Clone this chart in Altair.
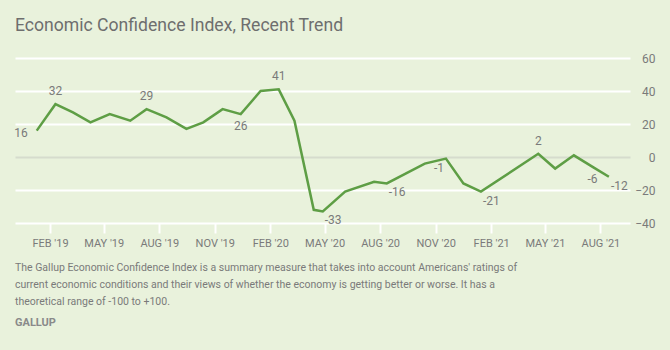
import altair as alt
import pandas as pd

# ---- data ----
DATES = ["2019-01-10", "2019-02-10", "2019-03-11", "2019-04-09", "2019-05-11",
         "2019-06-14", "2019-07-11", "2019-08-13", "2019-09-15", "2019-10-13",
         "2019-11-14", "2019-12-14", "2020-01-16", "2020-02-15", "2020-03-12",
         "2020-04-13", "2020-04-28", "2020-06-04", "2020-07-22", "2020-08-12",
         "2020-10-14", "2020-11-18", "2020-12-17", "2021-01-15", "2021-04-20",
         "2021-05-18", "2021-06-18", "2021-07-19", "2021-08-15"]
VALUES = [16, 32, 27, 21, 26, 22, 29, 24, 17, 21, 29, 26, 40, 41, 22,
          -32, -33, -21, -15, -16, -4, -1, -16, -21, 2, -7, 1, -6, -12]

# labelled points and where their label sits relative to the point
LABEL_DATES = ["2019-01-10", "2019-02-10", "2019-07-11", "2019-12-14", "2020-02-15",
               "2020-04-28", "2020-08-12", "2020-11-18", "2021-01-15", "2021-04-20",
               "2021-07-19", "2021-08-15"]
LABEL_PLACES = ["left", "above", "above", "below", "above",
                "belowright", "belowright", "belowleft", "belowright", "above",
                "below", "belowright"]

TICK_MONTHS = ["2019-02-01", "2019-05-01", "2019-08-01", "2019-11-01",
               "2020-02-01", "2020-05-01", "2020-08-01", "2020-11-01",
               "2021-02-01", "2021-05-01", "2021-08-01"]
Y_TICKS = [-40, -20, 0, 20, 40, 60]

TITLE = "Economic Confidence Index, Recent Trend"
NOTE_LINES = [
    "The Gallup Economic Confidence Index is a summary measure that takes into account Americans' ratings of",
    "current economic conditions and their views of whether the economy is getting better or worse. It has a",
    "theoretical range of -100 to +100.",
]
SOURCE = "GALLUP"

# ---- build ----
df = pd.DataFrame({"date": DATES, "value": VALUES})
lookup = dict(zip(DATES, VALUES))
lab = pd.DataFrame({
    "date": LABEL_DATES,
    "value": [lookup[d] for d in LABEL_DATES],
    "place": LABEL_PLACES,
})
lab["label"] = lab["value"].astype(str)

BG = "#e9f2dc"
TXT = "#7a7a7a"
GREEN = "#5e9e45"
FONT = "Roboto"


def dt(s):
    y, m, d = (int(p) for p in s.split("-"))
    return alt.DateTime(year=y, month=m, date=d, utc=True)


xscale = alt.Scale(type="utc", domain=[dt("2018-12-05"), dt("2021-09-19")])
yscale = alt.Scale(domain=[-40, 60])

x_enc = alt.X(
    "date:T", scale=xscale, title=None,
    axis=alt.Axis(
        values=[dt(t) for t in TICK_MONTHS],
        labelExpr="upper(utcFormat(datum.value, \"%b '%y\"))",
        grid=False, domain=False, ticks=True, tickColor="white", tickWidth=2,
        tickSize=10, labelColor=TXT, labelFontSize=11, labelFont=FONT,
        labelPadding=4, labelOverlap=False,
    ),
)
y_enc = alt.Y(
    "value:Q", scale=yscale, title=None,
    axis=alt.Axis(
        orient="right", values=Y_TICKS, domain=False, ticks=False,
        labelAlign="right", labelPadding=25, labelColor=TXT, labelFontSize=12,
        labelFont=FONT, labelOverlap=False, labelBaseline="middle",
        grid=True, gridWidth=2,
        gridColor={"condition": {"test": "datum.value === 0", "value": "#d6dccd"},
                   "value": "#ffffff"},
    ),
)

line = alt.Chart(df).mark_line(color=GREEN, strokeWidth=2.5).encode(x=x_enc, y=y_enc)

placements = {
    "above": dict(align="center", baseline="middle", dx=0, dy=-13),
    "below": dict(align="center", baseline="middle", dx=0, dy=12),
    "left": dict(align="right", baseline="middle", dx=-9, dy=2),
    "belowright": dict(align="left", baseline="middle", dx=2, dy=9),
    "belowleft": dict(align="center", baseline="middle", dx=-7, dy=9),
}
label_layers = []
for place, style in placements.items():
    label_layers.append(
        alt.Chart(lab).transform_filter(alt.datum.place == place)
        .mark_text(color=TXT, fontSize=12, font=FONT, **style)
        .encode(x=x_enc, y=y_enc, text="label:N")
    )

title_layer = alt.Chart(pd.DataFrame({"t": [TITLE]})).mark_text(
    align="left", baseline="alphabetic", color="#6e6e6e", fontSize=17.6, font=FONT
).encode(x=alt.value(0), y=alt.value(-27), text="t:N")

notes = pd.DataFrame({"t": NOTE_LINES, "i": list(range(len(NOTE_LINES)))})
note_layers = []
for i, t in enumerate(NOTE_LINES):
    note_layers.append(
        alt.Chart(notes).transform_filter(alt.datum.i == i)
        .mark_text(align="left", baseline="alphabetic", color=TXT, fontSize=10.5,
                   font=FONT)
        .encode(x=alt.value(0), y=alt.value(213 + 17 * i), text="t:N")
    )
src = alt.Chart(pd.DataFrame({"t": [SOURCE]})).mark_text(
    align="left", baseline="alphabetic", color="#8a8a8a", fontSize=11,
    fontWeight="bold", font=FONT
).encode(x=alt.value(0), y=alt.value(268), text="t:N")

chart = alt.layer(line, *label_layers, title_layer, *note_layers, src).properties(
    width=615, height=165,
    background=BG,
    padding={"left": 15, "top": 58, "right": 40, "bottom": 127},
    autosize=alt.AutoSizeParams(type="none"),
).configure_view(stroke=None)

chart.save("out.html", embed_options={"renderer": "svg", "actions": False})
